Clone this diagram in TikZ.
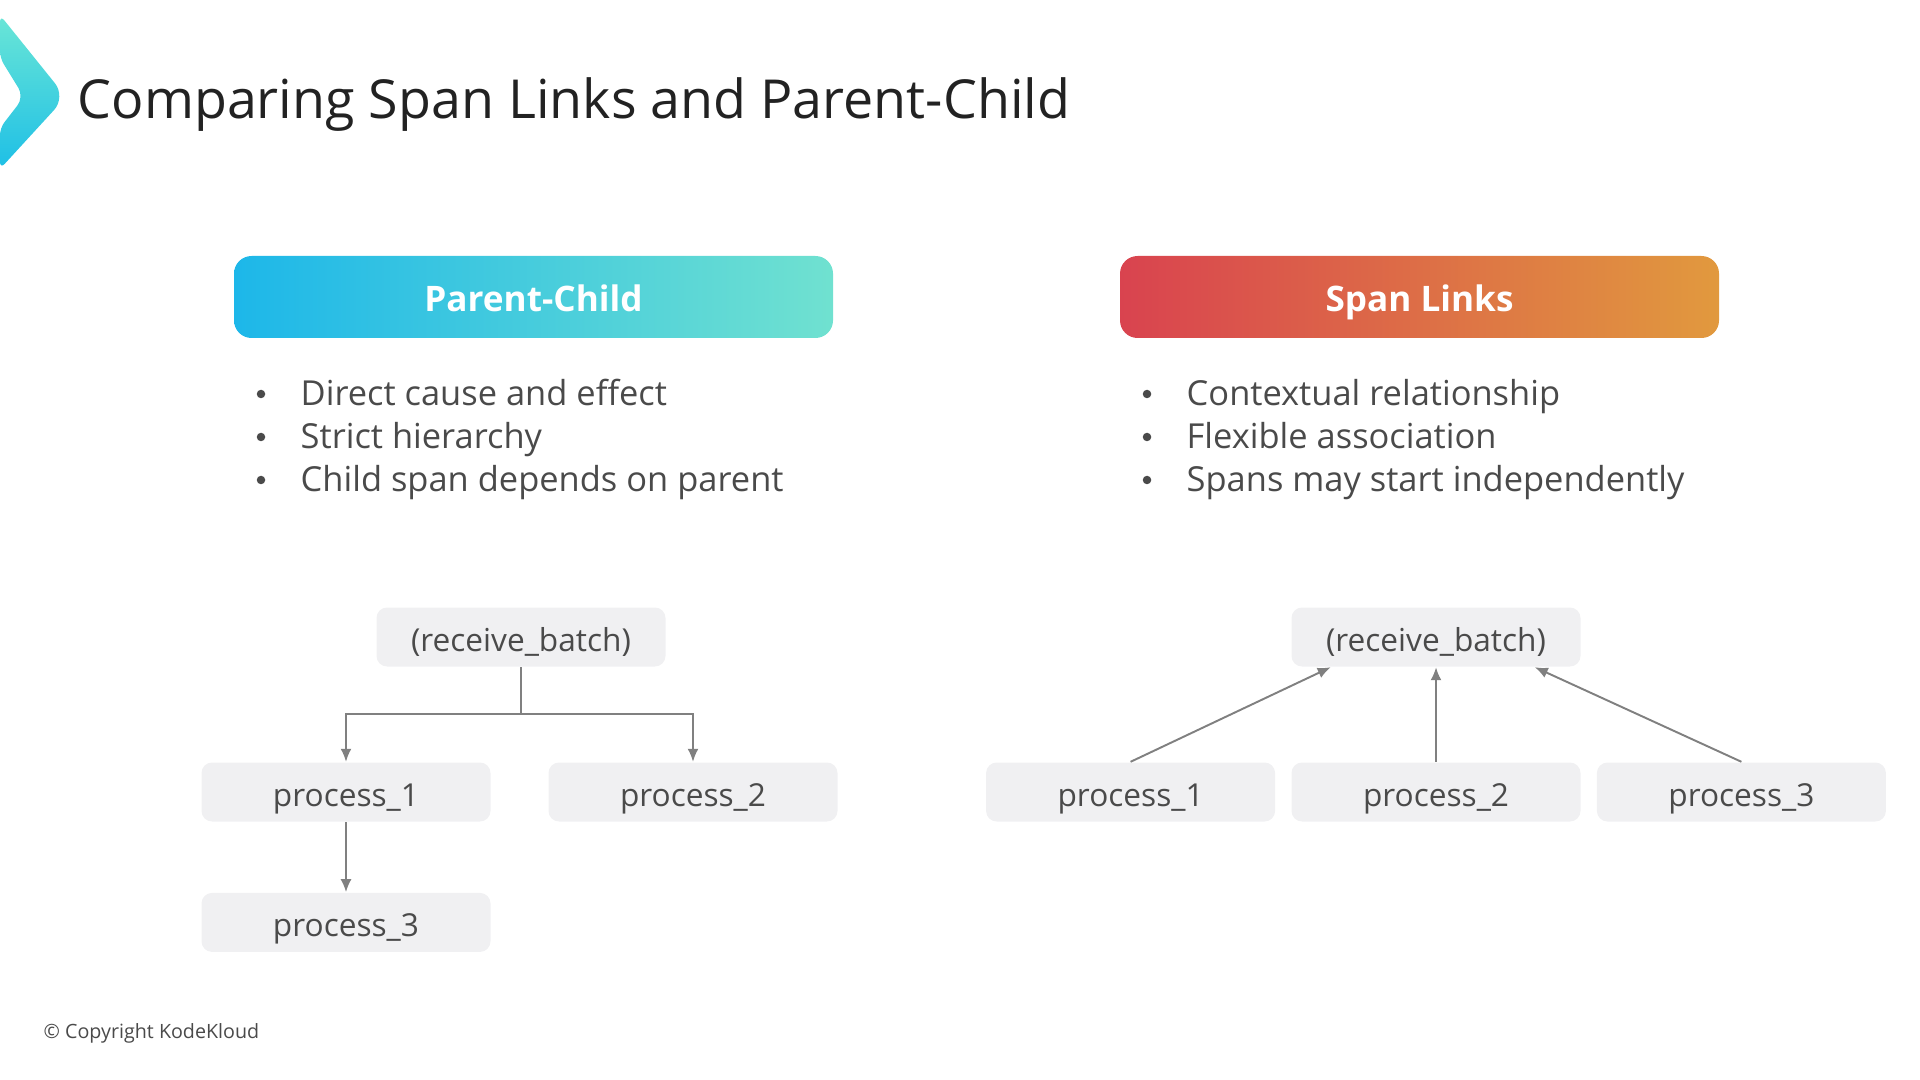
\documentclass[tikz,border=0pt]{standalone}
\usepackage{fontspec}
\setmainfont{Open Sans}
\usepackage{xcolor}
\usetikzlibrary{arrows.meta,positioning,shapes}

\definecolor{titlegray}{HTML}{222222}
\definecolor{textgray}{HTML}{4A4A4A}
\definecolor{boxfill}{HTML}{F0F0F2}
\definecolor{linegray}{HTML}{808080}
\definecolor{pcleft}{HTML}{1DB7E9}
\definecolor{pcright}{HTML}{70E1D0}
\definecolor{slleft}{HTML}{D9434F}
\definecolor{slright}{HTML}{E1993E}
\definecolor{logotop}{HTML}{6AE6D6}
\definecolor{logobot}{HTML}{1EBFE6}

\begin{document}
\begin{tikzpicture}[node distance=1.34cm and 0.58cm, every node/.style={font=\fontsize{9}{11}\selectfont}]
\tikzstyle{head}=[rounded corners=5pt,minimum width=5.99cm,minimum height=0.82cm,text=white,text height=10pt,text depth=2pt,font=\fontsize{10}{12}\selectfont\bfseries]
\tikzstyle{proc}=[fill=boxfill,rounded corners=3pt,minimum width=2.89cm,minimum height=0.59cm,text=textgray,text height=10pt,text depth=2pt,inner sep=0pt]
\tikzstyle{bullet}=[text=textgray,font=\fontsize{9.8}{12}\selectfont,anchor=base west,inner sep=0pt]
\tikzstyle{dot}=[circle,fill=textgray,inner sep=0pt,minimum size=0.085cm]
\tikzstyle{link}=[->,>={Latex[length=1.3mm,width=1.1mm]},draw=linegray,line width=0.55pt]
\useasboundingbox (0,0) rectangle (19.2,-10.8);

% logo and title
\shade[top color=logotop,bottom color=logobot,rounded corners=2pt]
  (0,-0.15) [rounded corners=5pt] -- (0.66,-0.97) [rounded corners=2pt] -- (0,-1.69)
  -- (0,-1.28) [rounded corners=3pt] -- (0.24,-0.97) [rounded corners=2pt] -- (0,-0.58) -- cycle;
\node[anchor=base west,text=titlegray,font=\fontsize{15.3}{18}\selectfont,inner sep=0pt] (title) at (0.77,-1.19) {Comparing Span Links and Parent-Child};

% column headers
\node[head,left color=pcleft,right color=pcright] (pchead) at (5.335,-2.97) {Parent-Child};
\node[head,left color=slleft,right color=slright] (slhead) at (14.195,-2.97) {Span Links};

% bullet lists
\foreach \txt [count=\i] in {Direct cause and effect,Strict hierarchy,Child span depends on parent} {
  \node[dot] (pcdot\i) at (2.61,-3.94-0.43*\i+0.43) {};
  \node[bullet] (pcitem\i) at (3.00,-4.05-0.43*\i+0.43) {\txt};
}
\foreach \txt [count=\i] in {Contextual relationship,Flexible association,Spans may start independently} {
  \node[dot] (sldot\i) at (11.47,-3.94-0.43*\i+0.43) {};
  \node[bullet] (slitem\i) at (11.86,-4.05-0.43*\i+0.43) {\txt};
}

% parent-child tree
\node[proc] (recvA) at (5.21,-6.37) {(receive\_batch)};
\node[proc] (proc1A) at (3.46,-7.92) {process\_1};
\node[proc] (proc2A) at (6.93,-7.92) {process\_2};
\node[proc,below=0.70cm of proc1A] (proc3A) {process\_3};
\coordinate (splitA) at (5.21,-7.14);

\draw[draw=linegray,line width=0.55pt] (recvA.south) -- (splitA);
\draw[link] (splitA) -| (proc1A.north);
\draw[link] (splitA) -| (proc2A.north);
\draw[link] (proc1A) -- (proc3A);

% span links
\node[proc] (recvB) at (14.36,-6.37) {(receive\_batch)};
\node[proc] (proc2B) at (14.36,-7.92) {process\_2};
\node[proc,left=0.15cm of proc2B] (proc1B) {process\_1};
\node[proc,right=0.15cm of proc2B] (proc3B) {process\_3};

\draw[link] (proc1B.north) -- (recvB.196);
\draw[link] (proc2B.north) -- (recvB.south);
\draw[link] (proc3B.north) -- (recvB.343);

% footer
\node[anchor=base west,text=textgray,font=\fontsize{5.6}{7}\selectfont,inner sep=0pt] (copy) at (0.43,-10.38) {© Copyright KodeKloud};
\end{tikzpicture}
\end{document}
